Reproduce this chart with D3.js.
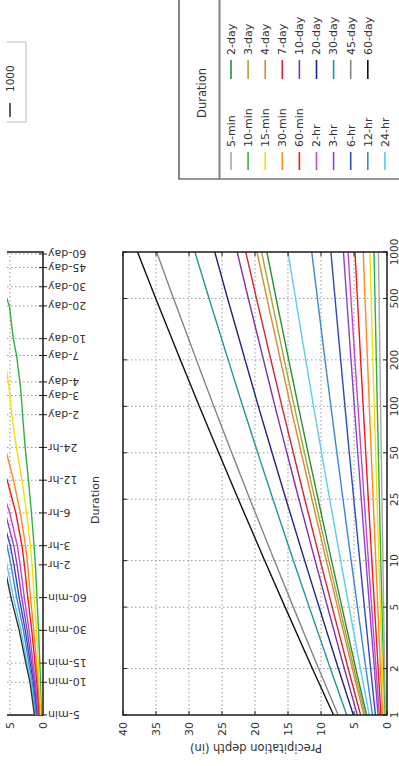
<!DOCTYPE html>
<html><head><meta charset="utf-8">
<script src="https://cdn.jsdelivr.net/npm/d3@7"></script>
<style>body{margin:0;background:#fff}svg{display:block}</style>
</head><body>
<svg id="c" width="399" height="766"></svg>
<script>
// ---------------- data ----------------
const ariYears = [1, 2, 5, 10, 25, 50, 100, 200, 500, 1000];
const ariLabels = ["1", "2", "5", "10", "25", "50", "100", "200", "500", "1000"];
const durationLabels = ["5-min","10-min","15-min","30-min","60-min","2-hr","3-hr","6-hr","12-hr","24-hr",
  "2-day","3-day","4-day","7-day","10-day","20-day","30-day","45-day","60-day"];
const durationMinutes = [5,10,15,30,60,120,180,360,720,1440,2880,4320,5760,10080,14400,28800,43200,64800,86400];
const depthTicks = [0, 5, 10, 15, 20, 25, 30, 35, 40];

// precipitation depth (in) per duration, at each ARI in ariYears
const d5min  = [0.25, 0.36, 0.51, 0.62, 0.76, 0.87, 0.97, 1.07, 1.20, 1.30];
const d10min = [0.38, 0.55, 0.77, 0.94, 1.15, 1.31, 1.47, 1.62, 1.82, 1.97];
const d15min = [0.48, 0.71, 1.00, 1.22, 1.51, 1.72, 1.93, 2.14, 2.40, 2.60];
const d30min = [0.68, 0.98, 1.40, 1.70, 2.10, 2.39, 2.68, 2.96, 3.33, 3.60];
const d60min = [0.92, 1.34, 1.89, 2.30, 2.83, 3.22, 3.61, 3.99, 4.48, 4.85];
const d2hr   = [1.15, 1.66, 2.32, 2.82, 3.46, 3.93, 4.40, 4.86, 5.46, 5.90];
const d3hr   = [1.35, 1.92, 2.65, 3.19, 3.90, 4.43, 4.95, 5.45, 6.11, 6.60];
const d6hr   = [1.75, 2.48, 3.42, 4.12, 5.03, 5.71, 6.37, 7.02, 7.87, 8.50];
const d12hr  = [2.20, 3.19, 4.47, 5.43, 6.67, 7.59, 8.50, 9.39, 10.54, 11.40];
const d24hr  = [2.70, 4.03, 5.74, 7.02, 8.68, 9.91, 11.13, 12.31, 13.86, 15.00];
const d2day  = [3.10, 4.73, 6.83, 8.40, 10.44, 11.95, 13.44, 14.89, 16.80, 18.20];
const d3day  = [3.30, 5.00, 7.18, 8.81, 10.93, 12.50, 14.05, 15.56, 17.54, 19.00];
const d4day  = [3.50, 5.25, 7.50, 9.19, 11.37, 12.99, 14.60, 16.15, 18.19, 19.70];
const d7day  = [4.00, 5.88, 8.30, 10.11, 12.46, 14.20, 15.92, 17.59, 19.78, 21.40];
const d10day = [4.50, 6.47, 9.00, 10.89, 13.35, 15.17, 16.97, 18.71, 21.01, 22.70];
const d20day = [5.10, 7.37, 10.29, 12.47, 15.31, 17.41, 19.49, 21.50, 24.15, 26.10];
const d30day = [6.10, 8.58, 11.78, 14.17, 17.28, 19.58, 21.86, 24.06, 26.96, 29.10];
const d45day = [7.40, 10.37, 14.19, 17.05, 20.77, 23.52, 26.24, 28.88, 32.34, 34.90];
const d60day = [8.10, 11.31, 15.44, 18.52, 22.53, 25.50, 28.44, 31.30, 35.04, 37.80];
const depthByDuration = [d5min,d10min,d15min,d30min,d60min,d2hr,d3hr,d6hr,d12hr,d24hr,
  d2day,d3day,d4day,d7day,d10day,d20day,d30day,d45day,d60day];

const durationColors = ["#a8a8a8","#2fb040","#f2e200","#ff8a1c","#f01818","#c845c8","#8a44c8","#3048b8","#3a86dc","#5ccbec",
  "#239038","#a9a533","#d9892f","#d02634","#7a34a8","#222283","#219494","#858585","#111111"];
const ariColors = ["#2fb040","#f2e200","#ff8a1c","#f01818","#c845c8","#8a44c8","#3048b8","#3a86dc","#5ccbec","#333333"];

// ---------------- drawing ----------------
const svg = d3.select("#c");
const FONT = "DejaVu Sans";
const TXT = "#333";
svg.append("rect").attr("width",399).attr("height",766).attr("fill","#fff");

const X0 = 123, X1 = 387, Y0 = 252, Y1 = 715;
const xDepth = d3.scaleLinear().domain([0, 40]).range([X1, X0]);
const yAri = d3.scaleLog().domain([1, 1000]).range([Y1, Y0]);

const defs = svg.append("defs");
defs.append("clipPath").attr("id","clipMain").append("rect")
  .attr("x",X0).attr("y",Y0).attr("width",X1-X0).attr("height",Y1-Y0);

const grid = {stroke:"#9a9a9a", dash:"1.5,2.5"};
const gMain = svg.append("g");
gMain.selectAll(".vg").data(depthTicks.filter(d=>d>0 && d<40)).enter().append("line")
  .attr("x1",d=>xDepth(d)).attr("x2",d=>xDepth(d)).attr("y1",Y0).attr("y2",Y1)
  .attr("stroke",grid.stroke).attr("stroke-dasharray",grid.dash);
gMain.selectAll(".hg").data(ariYears.filter(d=>d>1 && d<1000)).enter().append("line")
  .attr("y1",d=>yAri(d)).attr("y2",d=>yAri(d)).attr("x1",X0).attr("x2",X1)
  .attr("stroke",grid.stroke).attr("stroke-dasharray",grid.dash);

const lineMain = d3.line().x(d=>xDepth(d.v)).y(d=>yAri(d.a)).curve(d3.curveMonotoneY);
const gLines = svg.append("g").attr("clip-path","url(#clipMain)");
depthByDuration.forEach((arr,i)=>{
  gLines.append("path").datum(arr.map((v,j)=>({v, a: ariYears[j]})))
    .attr("d", lineMain).attr("fill","none").attr("stroke",durationColors[i]).attr("stroke-width",1.4);
});

const gT = svg.append("g").attr("stroke","#222").attr("stroke-width",1);
depthTicks.forEach(d=>{
  gT.append("line").attr("x1",xDepth(d)).attr("x2",xDepth(d)).attr("y1",Y1).attr("y2",Y1-4);
  gT.append("line").attr("x1",xDepth(d)).attr("x2",xDepth(d)).attr("y1",Y0).attr("y2",Y0+4);
});
ariYears.forEach(a=>{
  gT.append("line").attr("y1",yAri(a)).attr("y2",yAri(a)).attr("x1",X1).attr("x2",X1-4);
  gT.append("line").attr("y1",yAri(a)).attr("y2",yAri(a)).attr("x1",X0).attr("x2",X0+4);
});
svg.append("rect").attr("x",X0).attr("y",Y0).attr("width",X1-X0).attr("height",Y1-Y0)
  .attr("fill","none").attr("stroke","#1a1a1a").attr("stroke-width",1.5);

svg.selectAll(".dl").data(depthTicks).enter().append("text")
  .attr("transform",d=>`translate(${xDepth(d)},722) rotate(-90)`)
  .attr("text-anchor","end").attr("dy","0.35em")
  .attr("font-family",FONT).attr("font-size",11).attr("fill",TXT).text(d=>d);
svg.selectAll(".al").data(ariYears).enter().append("text")
  .attr("transform",(d)=>`translate(397.5,${yAri(d)}) rotate(-90)`)
  .attr("text-anchor","middle")
  .attr("font-family",FONT).attr("font-size",10.5).attr("fill",TXT).text((d,i)=>ariLabels[i]);
svg.append("text").attr("transform","translate(256,748) rotate(180)")
  .attr("text-anchor","middle").attr("dy","0.35em")
  .attr("font-family",FONT).attr("font-size",11.5).attr("fill",TXT).text("Precipitation depth (in)");

// ---------------- left panel (depth vs duration) ----------------
const LX0 = 7, LX1 = 43;
const xDepthL = d3.scaleLinear().domain([0, 5]).range([LX1, LX1 - 33]);
const yDur = d3.scaleLog().domain([5, 86400]).range([Y1, 254]);
defs.append("clipPath").attr("id","clipLeft").append("rect")
  .attr("x",LX0).attr("y",Y0).attr("width",LX1-LX0).attr("height",Y1-Y0);
const gL = svg.append("g");
gL.selectAll(".lh").data(durationMinutes).enter().append("line")
  .attr("y1",d=>yDur(d)).attr("y2",d=>yDur(d)).attr("x1",LX0).attr("x2",LX1)
  .attr("stroke",grid.stroke).attr("stroke-dasharray",grid.dash);
gL.append("line").attr("x1",xDepthL(5)).attr("x2",xDepthL(5)).attr("y1",Y0).attr("y2",Y1)
  .attr("stroke",grid.stroke).attr("stroke-dasharray",grid.dash);
const lineL = d3.line().x(d=>xDepthL(d.v)).y(d=>yDur(d.m));
const gLL = svg.append("g").attr("clip-path","url(#clipLeft)");
ariYears.forEach((a,j)=>{
  gLL.append("path").datum(depthByDuration.map((arr,i)=>({v: arr[j], m: durationMinutes[i]})))
    .attr("d",lineL).attr("fill","none").attr("stroke",ariColors[j]).attr("stroke-width",1.4);
});
durationMinutes.forEach(m=>{
  gL.append("line").attr("y1",yDur(m)).attr("y2",yDur(m)).attr("x1",LX1-4).attr("x2",LX1+4)
    .attr("stroke","#222");
});
gL.append("path").attr("d",`M${LX0},${Y0}H${LX1}V${Y1}H${LX0}`)
  .attr("fill","none").attr("stroke","#1a1a1a").attr("stroke-width",1.5);
gL.selectAll(".dul").data(durationMinutes).enter().append("text")
  .attr("transform",d=>`translate(48,${yDur(d)}) rotate(180)`)
  .attr("text-anchor","end").attr("dy","0.35em")
  .attr("font-family",FONT).attr("font-size",11).attr("fill",TXT).text((d,i)=>durationLabels[i]);
gL.selectAll(".ldl").data([0,5]).enter().append("text")
  .attr("transform",d=>`translate(${xDepthL(d)},722) rotate(-90)`)
  .attr("text-anchor","end").attr("dy","0.35em")
  .attr("font-family",FONT).attr("font-size",11).attr("fill",TXT).text(d=>d);
svg.append("text").attr("transform","translate(95,500) rotate(-90)")
  .attr("text-anchor","middle").attr("dy","0.35em")
  .attr("font-family",FONT).attr("font-size",11).attr("fill",TXT).text("Duration");

// ---------------- legend: Duration ----------------
const gLeg = svg.append("g");
gLeg.append("path").attr("d","M179,0V179H399").attr("fill","none").attr("stroke","#333").attr("stroke-width",1.2);
gLeg.append("line").attr("x1",219.5).attr("x2",219.5).attr("y1",0).attr("y2",179)
  .attr("stroke","#8c7f78").attr("stroke-width",2);
gLeg.append("text").attr("transform","translate(202,93) rotate(-90)")
  .attr("text-anchor","middle").attr("dy","0.35em")
  .attr("font-family",FONT).attr("font-size",11.5).attr("fill",TXT).text("Duration");
const rowX = i => 231 + i * 17.1;
durationLabels.forEach((lab,i)=>{
  const col = i < 10 ? 0 : 1, row = i < 10 ? i : i - 10;
  const x = rowX(row);
  const ly1 = col === 0 ? 152 : 60, ly2 = col === 0 ? 170 : 79, ty = col === 0 ? 147 : 55;
  gLeg.append("line").attr("x1",x).attr("x2",x).attr("y1",ly1).attr("y2",ly2)
    .attr("stroke",durationColors[i]).attr("stroke-width",1.6);
  gLeg.append("text").attr("transform",`translate(${x},${ty}) rotate(-90)`)
    .attr("text-anchor","start").attr("dy","0.35em")
    .attr("font-family",FONT).attr("font-size",11).attr("fill",TXT).text(lab);
});

// ---------------- legend: ARI (only the last entry falls inside the picture) ----------------
const gA = svg.append("g");
gA.append("path").attr("d","M7,42H26V122H7").attr("fill","none").attr("stroke","#bbb").attr("stroke-width",1);
ariLabels.forEach((lab,j)=>{
  const x = 10 - (ariLabels.length - 1 - j) * 17.1;
  if (x < 0) return;
  gA.append("line").attr("x1",x).attr("x2",x).attr("y1",103).attr("y2",117)
    .attr("stroke",ariColors[j]).attr("stroke-width",1.6);
  gA.append("text").attr("transform",`translate(${x},92) rotate(-90)`)
    .attr("text-anchor","start").attr("dy","0.35em")
    .attr("font-family",FONT).attr("font-size",10.5).attr("fill",TXT).text(lab);
});
</script>
</body></html>
